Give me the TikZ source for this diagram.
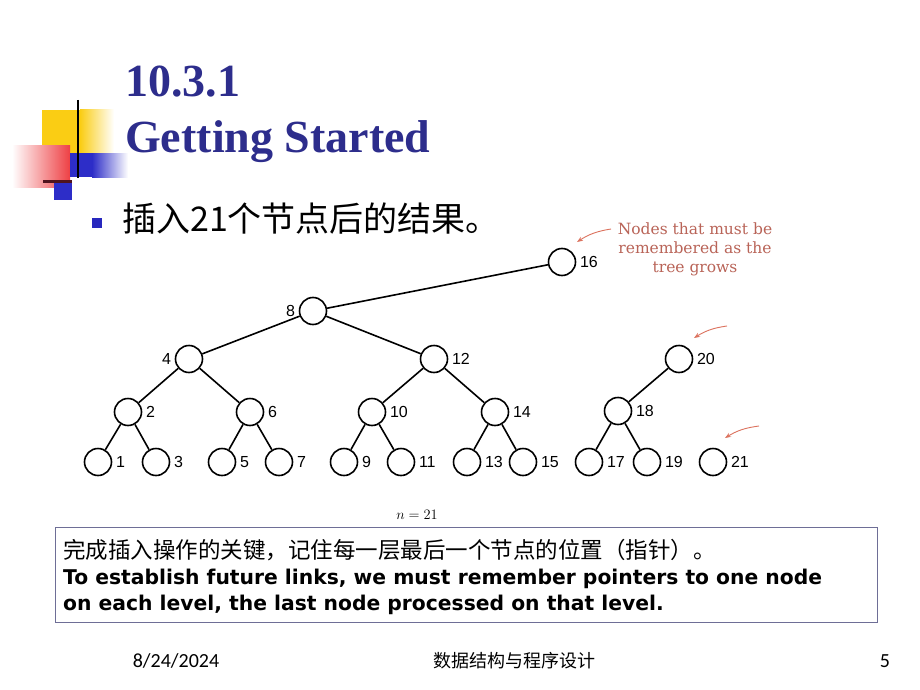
\documentclass[tikz,border=0pt]{standalone}
\usepackage{fontspec}
\setmainfont{Liberation Serif}
\newfontfamily\cjk{Noto Sans CJK SC}
\newfontfamily\engbox{DejaVu Sans}
\newfontfamily\lblfont{Liberation Sans}
\newfontfamily\notefont{DejaVu Serif}
\newfontfamily\footfont{Carlito}
\usetikzlibrary{arrows.meta}
\definecolor{titleblue}{RGB}{45,45,140}
\definecolor{bulletblue}{RGB}{40,40,190}
\definecolor{notecol}{RGB}{185,100,88}
\definecolor{arrowcol}{RGB}{220,115,95}
\definecolor{boxborder}{RGB}{110,110,150}
\definecolor{decoyellow}{RGB}{250,205,20}
\definecolor{decored}{RGB}{235,30,35}
\definecolor{decoblue}{RGB}{45,45,200}
\definecolor{decodark}{RGB}{80,20,30}
\newlength\wA
\begin{document}
\settowidth\wA{\engbox\bfseries\fontsize{18}{20}\selectfont To establish future links, we must remember pointers to one node}%
\pgfmathsetmacro\fsE{18*759/\wA}%
\begin{tikzpicture}[x=1pt,y=-1pt,
  circ/.style={circle,draw,line width=1.6pt,minimum size=27pt,inner sep=0pt},
  edge/.style={line width=1.6pt},
  lbl/.style={font=\lblfont\fontsize{16}{18}\selectfont,inner sep=1pt},
  every label/.style={lbl},
  label distance=2.5pt,
  arr/.style={draw=arrowcol,line width=0.9pt,-{Stealth[length=6pt,width=4.5pt]}},
  titletext/.style={anchor=base west,text=titleblue,font=\fontsize{46}{50}\selectfont\bfseries,inner sep=0pt},
  boxline/.style={anchor=base west,inner sep=0pt}
]
\fill[white] (0,0) rectangle (920,690);
\useasboundingbox (0,0) rectangle (920,690);
% decoration
\fill[decoyellow] (42,110) rectangle (80,153);
\shade[left color=decoyellow,right color=white] (80,110) rectangle (114,153);
\shade[left color=white,right color=decored!85] (12,145) rectangle (70,187);
\fill[decoblue] (70,153) rectangle (92,177);
\shade[left color=decoblue,right color=white] (92,153) rectangle (128,177);
\draw[line width=2.5pt] (78,100) -- (78,178);
\draw[line width=3pt,decodark] (43,181) -- (72,181);
\fill[decoblue] (54,183) rectangle (72,200);
% title
\node[titletext] (t1) at (125,97) {10.3.1};
\node[titletext] (t2) at (125,152) {Getting Started};
% bullet
\node[fill=bulletblue,minimum size=10pt,inner sep=0pt] (bullet) at (97,223) {};
\node[anchor=base west,inner sep=0pt,font=\cjk\fontsize{34}{36}\selectfont] (btext) at (122,231) {插入21个节点后的结果。};
% tree
\node[circ,label=right:16] (n16) at (562,262) {};
\node[circ,label=left:8] (n8) at (313,311) {};
\node[circ,label=left:4] (n4) at (189,359) {};
\node[circ,label=right:12] (n12) at (434,359) {};
\node[circ,label=right:20] (n20) at (679,359) {};
\node[circ,label=right:2] (n2) at (128,412) {};
\node[circ,label=right:6] (n6) at (250,412) {};
\node[circ,label=right:10] (n10) at (372,412) {};
\node[circ,label=right:14] (n14) at (495,412) {};
\node[circ,label=right:18] (n18) at (618,411) {};
\node[circ,label=right:1] (n1) at (98,462) {};
\node[circ,label=right:3] (n3) at (156,462) {};
\node[circ,label=right:5] (n5) at (222,462) {};
\node[circ,label=right:7] (n7) at (279,462) {};
\node[circ,label=right:9] (n9) at (344,462) {};
\node[circ,label=right:11] (n11) at (401,462) {};
\node[circ,label=right:13] (n13) at (467,462) {};
\node[circ,label=right:15] (n15) at (523,462) {};
\node[circ,label=right:17] (n17) at (589,462) {};
\node[circ,label=right:19] (n19) at (647,462) {};
\node[circ,label=right:21] (n21) at (713,462) {};
\foreach \a/\b in {n16/n8,n8/n4,n8/n12,n4/n2,n4/n6,n12/n10,n12/n14,n2/n1,n2/n3,n6/n5,n6/n7,n10/n9,n10/n11,n14/n13,n14/n15,n20/n18,n18/n17,n18/n19}
  \draw[edge] (\a) -- (\b);
% note and arrows
\node[align=center,text=notecol,font=\notefont\fontsize{15.5}{19}\selectfont] (note) at (695,249) {Nodes that must be\\remembered as the\\tree grows};
\coordinate (a1s) at (611,229); \coordinate (a1e) at (577,242);
\coordinate (a2s) at (727,326); \coordinate (a2e) at (694,338);
\coordinate (a3s) at (759,426); \coordinate (a3e) at (725,438);
\draw[arr] (a1s) to[bend right=12] (a1e);
\draw[arr] (a2s) to[bend right=12] (a2e);
\draw[arr] (a3s) to[bend right=12] (a3e);
% n = 21
\node[font=\fontsize{15}{17}\selectfont] (nlab) at (417,515) {$n = 21$};
% box
\node[draw=boxborder,line width=1pt,minimum width=822pt,minimum height=95pt,anchor=north west,inner sep=0pt] (box) at (55,527) {};
\node[boxline,font=\cjk\fontsize{22.5}{24}\selectfont] (l1) at (63,558) {完成插入操作的关键，记住每一层最后一个节点的位置（指针）。};
\node[boxline,font=\engbox\bfseries\fontsize{\fsE}{\fsE}\selectfont] (l2) at (63,584) {To establish future links, we must remember pointers to one node};
\node[boxline,font=\engbox\bfseries\fontsize{\fsE}{\fsE}\selectfont] (l3) at (63,610) {on each level, the last node processed on that level.};
% footer
\node[font=\footfont\fontsize{20}{22}\selectfont] (date) at (176,661) {8/24/2024};
\node[font=\cjk\fontsize{18}{20}\selectfont] (course) at (514,661) {数据结构与程序设计};
\node[font=\footfont\fontsize{20}{22}\selectfont] (page) at (885,661) {5};
\end{tikzpicture}
\end{document}
